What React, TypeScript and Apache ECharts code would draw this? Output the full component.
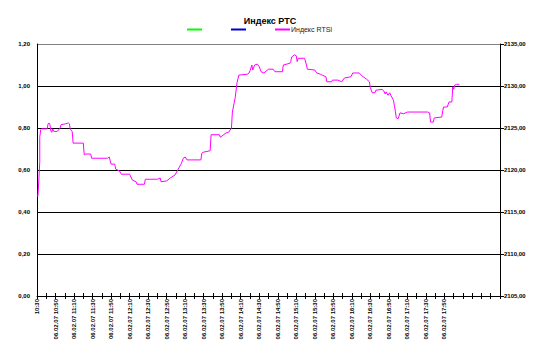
import React, { useEffect, useRef } from "react";
import * as echarts from "echarts";

// time in minutes since midnight (06.02.07), RTSI index value
const times: number[] = [
  630, 631, 632, 633, 633, 634, 635, 641, 642, 643, 644, 645, 646, 647, 648, 652, 655, 656, 661, 664, 665, 666, 668, 669, 680, 681, 682, 688, 689, 706, 708, 710, 714, 715, 719, 721, 730, 733, 737, 738, 746, 747, 760, 763, 764, 770, 774, 779, 782, 786, 788, 790, 792, 807, 808, 809, 817, 818, 827, 828, 834, 837, 840, 841, 844, 846, 848, 857, 859, 860, 862, 863, 865, 868, 870, 872, 875, 880, 885, 887, 895, 896, 903, 904, 905, 908, 910, 911, 912, 919, 921, 922, 930, 932, 936, 938, 942, 943, 948, 949, 955, 959, 962, 969, 971, 978, 981, 986, 989, 990, 992, 995, 996, 1003, 1005, 1006, 1007, 1009, 1011, 1012, 1015, 1016, 1017, 1018, 1020, 1022, 1026, 1030, 1052, 1054, 1055, 1058, 1059, 1067, 1069, 1073, 1075, 1078, 1079, 1080, 1081, 1083, 1086,
];
const rtsi: number[] = [
  2116.9, 2116.9, 2118.8, 2121.0, 2123.9, 2124.8, 2124.9, 2124.9, 2125.5, 2125.6, 2125.4, 2124.6, 2124.5, 2124.9, 2124.6, 2124.6, 2125.0, 2125.4, 2125.5, 2125.6, 2125.5, 2124.8, 2124.6, 2123.2, 2123.2, 2121.8, 2121.9, 2121.9, 2121.4, 2121.4, 2121.55, 2120.7, 2120.7, 2120.1, 2119.9, 2119.5, 2119.5, 2118.8, 2118.6, 2118.3, 2118.3, 2118.9, 2118.9, 2119.05, 2118.6, 2118.7, 2119.05, 2119.4, 2120.0, 2120.8, 2121.4, 2121.55, 2121.2, 2121.2, 2122.0, 2122.1, 2122.3, 2124.2, 2124.2, 2123.9, 2124.4, 2124.5, 2125.0, 2126.9, 2128.6, 2130.4, 2131.3, 2131.4, 2131.55, 2131.8, 2132.5, 2131.9, 2132.5, 2132.6, 2132.3, 2131.7, 2131.55, 2132.0, 2132.0, 2131.7, 2131.7, 2132.5, 2132.7, 2132.9, 2133.45, 2133.7, 2133.6, 2132.9, 2133.3, 2133.3, 2132.5, 2132.0, 2131.9, 2131.55, 2131.4, 2131.3, 2131.1, 2130.5, 2130.5, 2130.7, 2130.7, 2130.5, 2130.95, 2131.1, 2131.55, 2131.55, 2131.2, 2130.8, 2130.5, 2129.8, 2129.2, 2129.2, 2129.5, 2129.6, 2129.3, 2129.05, 2129.3, 2128.9, 2129.2, 2128.9, 2128.3, 2127.6, 2127.0, 2126.2, 2126.1, 2126.8, 2126.7, 2126.9, 2126.9, 2126.8, 2125.7, 2125.7, 2126.2, 2126.3, 2127.5, 2127.5, 2128.1, 2128.1, 2129.9, 2129.6, 2130.1, 2130.2, 2130.2,
];

const dateLabel = "06.02.07";
const xStart = 630;
const xEnd = 1130;
const lastLabel = 1070;
const leftTicks = [0, 0.2, 0.4, 0.6, 0.8, 1.0, 1.2];
const rightMin = 2105;
const rightMax = 2135;
const titleText = "Индекс РТС";
const seriesNames = [" ", "  ", "Индекс RTSI"];
const seriesColors = ["#00ff00", "#0000cc", "#ff00ff"];

const fmtTime = (v: number) => {
  const h = Math.floor(v / 60);
  const m = Math.round(v % 60);
  return `${h}:${m < 10 ? "0" + m : m}`;
};

export default function App() {
  const ref = useRef<HTMLDivElement>(null);
  useEffect(() => {
    if (!ref.current) return;
    const chart = echarts.init(ref.current, undefined, { renderer: "svg" });
    const font = "Liberation Sans, Arial, sans-serif";
    const legendPos = [187, 231, 275];
    chart.setOption({
      animation: false,
      backgroundColor: "#fff",
      color: seriesColors,
      textStyle: { fontFamily: font },
      title: {
        text: titleText,
        left: 265,
        textAlign: "center",
        top: 11,
        textStyle: { fontSize: 9, fontWeight: "bold", color: "#000", fontFamily: font },
      },
      legend: seriesNames.map((n, i) => ({
        data: [{ name: n, itemStyle: { color: seriesColors[i] } }],
        left: legendPos[i],
        top: 26,
        icon: "rect",
        itemWidth: 15,
        itemHeight: 2,
        itemGap: 0,
        padding: 0,
        textStyle: { fontSize: 7, color: "#222", padding: [0, 0, 0, -4] },
      })),
      grid: { left: 37, right: 38, top: 44, bottom: 60, containLabel: false },
      xAxis: [
        {
          type: "value",
          min: xStart,
          max: xEnd,
          interval: 10,
          axisLine: { show: true, lineStyle: { color: "#000", width: 1 } },
          axisTick: { show: true, length: 3, lineStyle: { color: "#000" } },
          splitLine: { show: false },
          axisLabel: {
            rotate: 90,
            fontSize: 6,
            fontWeight: "bold",
            color: "#000",
            margin: 3,
            formatter: (v: number) => {
              if ((v - xStart) % 20 !== 0 || v > lastLabel) return "";
              if (v === xStart) return fmtTime(v);
              return `${dateLabel} ${fmtTime(v)}`;
            },
          },
        },
        {
          type: "value",
          min: xStart,
          max: xEnd,
          interval: 10,
          position: "bottom",
          axisLine: { show: false },
          axisTick: { show: true, inside: true, length: 3, lineStyle: { color: "#000" } },
          axisLabel: { show: false },
          splitLine: { show: false },
        },
      ],
      yAxis: [
        {
          type: "value",
          min: leftTicks[0],
          max: leftTicks[leftTicks.length - 1],
          interval: 0.2,
          axisLine: { show: true, lineStyle: { color: "#000", width: 1 } },
          axisTick: { show: false },
          splitLine: {
            show: true,
            lineStyle: {
              color: ["#000", "#000", "#000", "#000", "#000", "#000", "#808080"],
              width: 1,
            },
          },
          axisLabel: {
            fontSize: 6,
            fontWeight: "bold",
            color: "#000",
            margin: 7,
            formatter: (v: number) => v.toFixed(2).replace(".", ","),
          },
        },
        {
          type: "value",
          min: rightMin,
          max: rightMax,
          interval: 5,
          position: "right",
          axisLine: { show: true, lineStyle: { color: "#000", width: 1 } },
          axisTick: { show: true, length: 4, lineStyle: { color: "#000" } },
          splitLine: { show: false },
          axisLabel: {
            fontSize: 6,
            fontWeight: "bold",
            color: "#000",
            margin: 4,
            formatter: (v: number) => v.toFixed(2).replace(".", ","),
          },
        },
      ],
      series: seriesNames.map((n, i) => ({
        name: n,
        type: "line",
        yAxisIndex: i === 2 ? 1 : 0,
        color: seriesColors[i],
        data: i === 2 ? times.map((t, k) => [t, rtsi[k]]) : [],
        showSymbol: false,
        symbol: "none",
        lineStyle: { color: seriesColors[i], width: 1 },
        itemStyle: { color: seriesColors[i] },
      })),
    });
    return () => chart.dispose();
  }, []);
  return (
    <div
      ref={ref}
      style={{ position: "fixed", left: 0, top: 0, width: 538, height: 356, background: "#fff" }}
    />
  );
}
